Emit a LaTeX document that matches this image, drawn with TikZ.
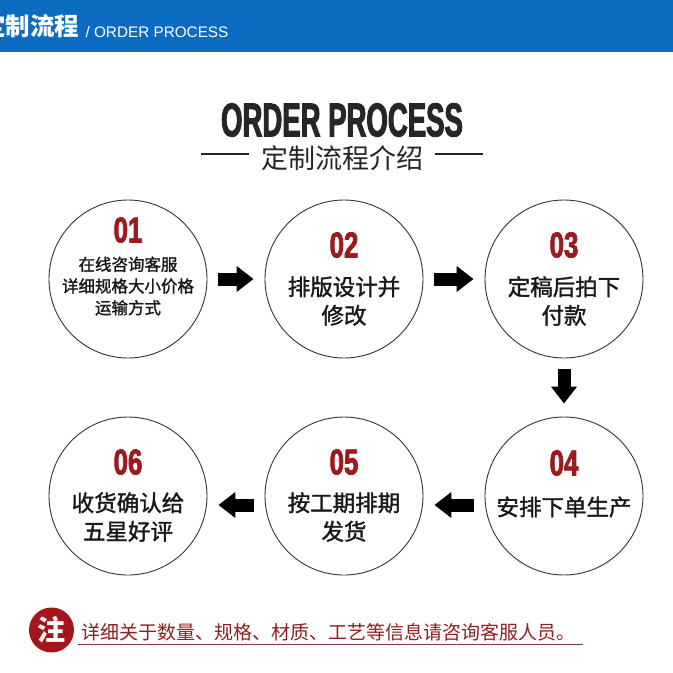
\documentclass[tikz,border=0pt]{standalone}
\usepackage{fontspec}
\usepackage{tikz}
\usetikzlibrary{positioning}
\usetikzlibrary{arrows.meta}
\setmainfont{Liberation Sans}
\newfontfamily\cjk{Noto Sans CJK SC}
\newfontfamily\cjkmid[FakeBold=1.5]{Noto Sans CJK SC}
\newfontfamily\numfont[FakeStretch=0.72,FakeBold=2]{Liberation Sans}
\newfontfamily\titlefont[FakeStretch=0.58,FakeBold=2]{Liberation Sans}
\definecolor{barblue}{HTML}{0B6BC0}
\definecolor{numred}{HTML}{9B1B1E}
\definecolor{notered}{HTML}{A3161A}
\definecolor{notetext}{HTML}{8E1F22}
\tikzset{
    stepcircle/.style={draw=black!80, line width=0.9pt, circle, minimum size=158pt, inner sep=0pt},
    stepnum/.style={text=numred, inner sep=0pt, font=\numfont\bfseries\fontsize{36}{36}\selectfont},
    steptext/.style={inner sep=0pt, align=center, text=black!90,
        font=\cjkmid\fontsize{22.5}{28.5}\selectfont},
    blockarrow/.style={draw=black, line width=13pt, -{Triangle[length=17pt,width=25pt]},
        shorten <=11pt, shorten >=11pt},
    % >=stealth
}

\begin{document}
\begin{tikzpicture}[x=1pt, y=-1pt]
	\fill[white] (0,0) rectangle (673,673);
	% top bar
	\fill[barblue] (0,0) rectangle (673,52);
	\begin{scope}
	\clip (0,0) rectangle (673,52);
	\node[anchor=base west, inner sep=0pt, text=white, font=\cjk\bfseries\fontsize{24.5}{24.5}\selectfont] (bartitle) at (-19,35) {定制流程};
	\end{scope}
	\node[anchor=base west, inner sep=0pt, text=white, font=\fontsize{15.3}{15.3}\selectfont] (barsub) at ([xshift=6pt,yshift=-2pt]bartitle.base east) {/ ORDER PROCESS};
	% heading
	\node[inner sep=0pt, text=black!85, font=\titlefont\bfseries\fontsize{47.5}{47.5}\selectfont] (title) at (342,120) {ORDER PROCESS};
	\node[below=8pt of title, inner sep=0pt, text=black!85, font=\cjk\fontsize{27}{27}\selectfont] (subtitle) {定制流程介绍};
	\draw[line width=2pt, black!85] ([xshift=-12pt,yshift=3.5pt]subtitle.west) -- ++(-48,0);
	\draw[line width=2pt, black!85] ([xshift=12pt,yshift=3.5pt]subtitle.east) -- ++(48,0);
	% steps
	\foreach \name/\x/\y in {s1/128/279, s2/344/279, s3/564/279, s4/564/496, s5/344/496, s6/128/496}
		\node[stepcircle] (\name) at (\x,\y) {};
	\node[stepnum] (n1) at ([yshift=49pt]s1.center) {01};
	\node[stepnum] (n2) at ([yshift=34pt]s2.center) {02};
	\node[stepnum] (n3) at ([yshift=34pt]s3.center) {03};
	\node[stepnum] (n4) at ([yshift=33pt]s4.center) {04};
	\node[stepnum] (n5) at ([yshift=34pt]s5.center) {05};
	\node[stepnum] (n6) at ([yshift=34pt]s6.center) {06};
	\node[steptext, font=\cjkmid\fontsize{16.5}{21.7}\selectfont] (t1) at ([yshift=-7pt]s1.center) {在线咨询客服\\详细规格大小价格\\运输方式};
	\node[steptext] (t2) at ([yshift=-22pt]s2.center) {排版设计并\\修改};
	\node[steptext] (t3) at ([yshift=-22pt]s3.center) {定稿后拍下\\付款};
	\node[steptext] (t4) at ([yshift=-11pt]s4.center) {安排下单生产};
	\node[steptext] (t5) at ([yshift=-21pt]s5.center) {按工期排期\\发货};
	\node[steptext] (t6) at ([yshift=-21pt]s6.center) {收货确认给\\五星好评};
	\draw[blockarrow] (s1) -- (s2);
	\draw[blockarrow] (s2) -- (s3);
	\draw[blockarrow, shorten >=13pt] (s3) -- (s4);
	\draw[blockarrow] ([yshift=-9pt]s4.west) -- ([yshift=-9pt]s5.east);
	\draw[blockarrow] ([yshift=-9pt]s5.west) -- ([yshift=-9pt]s6.east);
	% note
	\node[circle, fill=notered, minimum size=45pt, inner sep=0pt, text=white, font=\cjk\bfseries\fontsize{28}{28}\selectfont] (badge) at (51.5,630) {注};
	\node[right=7pt of badge, yshift=-2.5pt, inner sep=0pt, text=notetext, font=\cjk\fontsize{19}{19}\selectfont] (note) {详细关于数量、规格、材质、工艺等信息请咨询客服人员。};
	\draw[notered!60!black!80, line width=1pt] ([shift={(-3pt,-3pt)}]note.south west) -- ([shift={(7pt,-3pt)}]note.south east);
\end{tikzpicture}
\end{document}
